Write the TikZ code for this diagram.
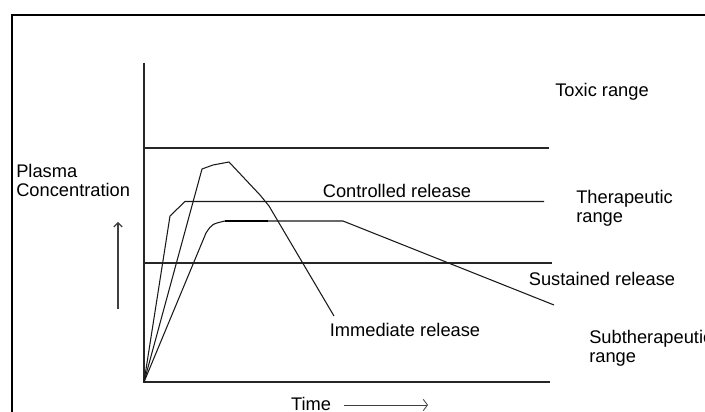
\documentclass[tikz,border=0pt]{standalone}
\usepackage{fontspec}
\setmainfont{Liberation Sans}
\usetikzlibrary{arrows.meta}

\tikzset{
  lbl/.style={inner sep=0pt, font=\fontsize{13}{13.5}\selectfont},
  curve/.style={line width=0.75pt, black!90},
  level/.style={line width=0.85pt, black!85}
}

\begin{document}
\begin{tikzpicture}[x=0.025cm, y=-0.025cm]
\useasboundingbox (0,0) rectangle (705,412);
\clip (0,0) rectangle (705,412);
\fill[white] (0,0) rectangle (705,412);
\draw[line width=1.3pt] (12,15) rectangle (730,440);

% axes
\coordinate (O) at (144,382);
\draw[level] (144,63) -- (O) -- (550,382);

% range limits
\draw[level] (144,148) -- (549,148);
\draw[level] (144,263) -- (552,263);

% controlled release
\draw[curve] (O) -- (170,216) -- (185,201.5) -- (544,201.5);

% sustained release
\draw[curve] (O) -- (206,233) .. controls (212,224) .. (225,221) -- (343,221) -- (554,305);
\draw[line width=1.4pt] (225,221) -- (268,221);

% immediate release
\draw[curve] (O) -- (202,169) -- (213,165) -- (229,162) -- (260,195) -- (269,206) -- (334,316);

\node[lbl] (toxic) at (602,92) {Toxic range};
\node[lbl, anchor=west, align=left] (plasma) at (16,180.5) {Plasma\\Concentration};
\node[lbl] (ctrl) at (397,191) {Controlled release};
\node[lbl, anchor=west, align=left] (thera) at (576,208.5) {Therapeutic\\range};
\node[lbl] (sust) at (602,279) {Sustained release};
\node[lbl] (immed) at (405,330) {Immediate release};
\node[lbl, anchor=west, align=left] (sub) at (589,348.5) {Subtherapeutic\\range};
\node[lbl] (time) at (311,404) {Time};

\coordinate (upS) at (118,309);
\coordinate (upE) at (118,222);
\draw[line width=0.8pt, black!75, -{Straight Barb[length=3pt,width=6pt]}] (upS) -- (upE);
\coordinate (tS) at (344,405);
\coordinate (tE) at (428,405);
\draw[line width=0.6pt, black!75, -{Straight Barb[length=3pt,width=8pt]}] (tS) -- (tE);
\end{tikzpicture}
\end{document}
